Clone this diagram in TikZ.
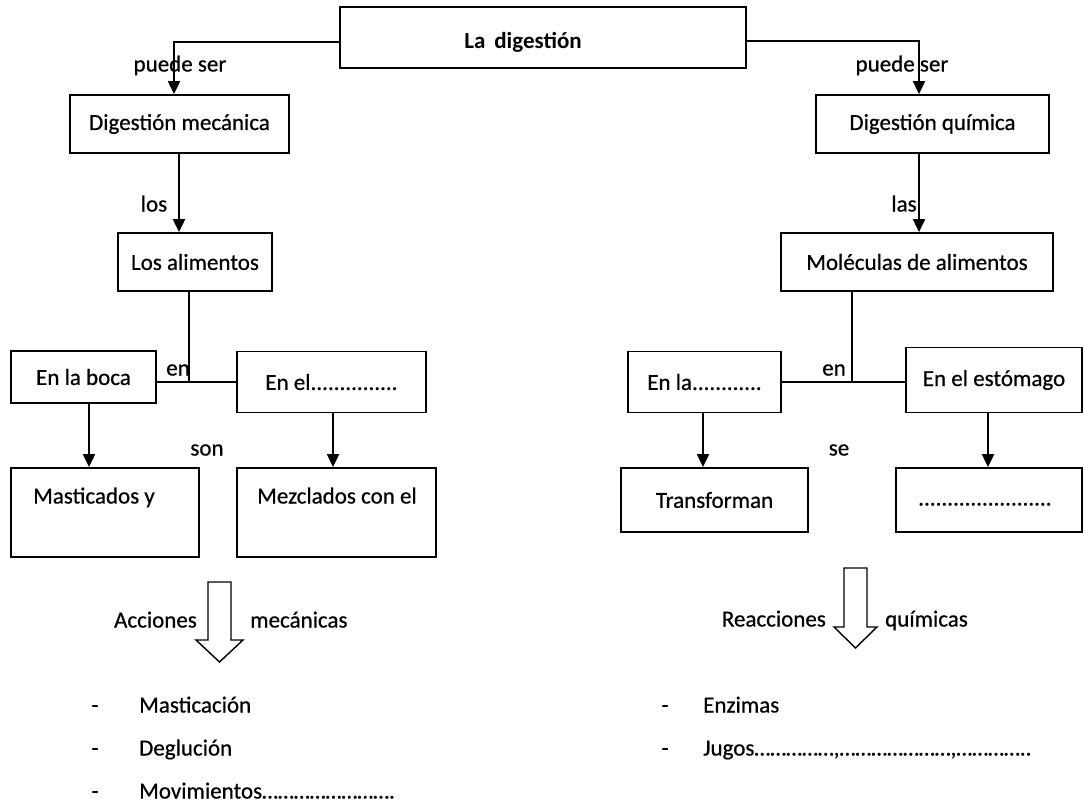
\documentclass[tikz,border=0pt]{standalone}
\usepackage{fontspec}
\setmainfont[FakeBold=0.6]{Carlito}
\newfontfamily\titlefont{Carlito}
\usetikzlibrary{arrows.meta}
\begin{document}
\begin{tikzpicture}[x=1pt,y=-1pt,
  txt/.style={font=\fontsize{23}{28}\selectfont, inner sep=0pt, text height=16pt, text depth=5pt},
  box/.style={draw, line width=1.8pt, rectangle, inner sep=0pt, font=\fontsize{23}{28}\selectfont},
  con/.style={line width=2pt},
  arr/.style={line width=2pt, -{Triangle[width=12pt,length=13pt]}},
  barrow/.style={draw, line width=1.4pt, fill=white, line join=miter}]
\useasboundingbox (0,0) rectangle (1084,809);

% boxes
\node[box, minimum width=406pt, minimum height=61pt,
      label={[txt, font=\fontsize{23}{28}\selectfont\titlefont\bfseries, xshift=-20pt, yshift=-5pt]center:La\ \,digestión}] (dig) at (543,37.5) {};
\node[box, minimum width=219pt, minimum height=58pt] (mec) at (179.5,124) {Digestión mecánica};
\node[box, minimum width=233pt, minimum height=58pt] (qui) at (932.5,124) {Digestión química};
\node[box, minimum width=154pt, minimum height=58pt] (ali) at (195,262) {Los alimentos};
\node[box, minimum width=272pt, minimum height=58pt] (mol) at (917,262) {Moléculas de alimentos};
\node[box, minimum width=145pt, minimum height=52pt] (boca) at (83.5,377) {En la boca};
\node[box, minimum width=189pt, minimum height=61pt] (enel) at (331.5,382) {En el...............};
\node[box, minimum width=153pt, minimum height=61pt] (enla) at (704.5,382) {En la............};
\node[box, minimum width=176pt, minimum height=65pt] (esto) at (994,380) {En el estómago};
\node[box, minimum width=188pt, minimum height=89pt] (mast) at (105,512.5) {};
\node[txt, anchor=west] (mastt) at (33,498) {Masticados y};
\node[box, minimum width=199pt, minimum height=89pt] (mezc) at (336.5,512.5) {};
\node[txt, anchor=west] (mezct) at (257,498) {Mezclados con el};
\node[box, minimum width=187pt, minimum height=64pt] (trans) at (714.5,500) {Transforman};
\node[box, minimum width=186pt, minimum height=64pt] (dots) at (989,500) {};
\node[txt] (dotst) at (985,500) {.......................};

% connectors
\draw[arr] ([yshift=-4.5pt]dig.west) -| ([xshift=-5.5pt]mec.north);
\draw[arr] ([yshift=-3.5pt]dig.east) -| ([xshift=-13.5pt]qui.north);
\draw[arr] ([xshift=-0.5pt]mec.south) -- ([xshift=-0.5pt]mec.south |- ali.north);
\draw[arr] ([xshift=-13.5pt]qui.south) -- ([xshift=-13.5pt]qui.south |- mol.north);
\draw[con] ([xshift=-6pt]ali.south) -- ([xshift=-6pt]ali.south |- enel.west);
\draw[con] (boca.east |- enel.west) -- (enel.west);
\draw[con] ([xshift=-65pt]mol.south) -- ([xshift=-65pt]mol.south |- enla.east);
\draw[con] (enla.east) -- (enla.east -| esto.west);
\draw[arr] ([xshift=5.5pt]boca.south) -- ([xshift=5.5pt]boca.south |- mast.north);
\draw[arr] ([xshift=1.5pt]enel.south) -- ([xshift=1.5pt]enel.south |- mezc.north);
\draw[arr] ([xshift=-1.5pt]enla.south) -- ([xshift=-1.5pt]enla.south |- trans.north);
\draw[arr] ([xshift=-6pt]esto.south) -- ([xshift=-6pt]esto.south |- dots.north);

% connector labels
\node[txt] (l1) at (180,66) {puede ser};
\node[txt] (l2) at (902,66) {puede ser};
\node[txt] (l3) at (154,206) {los};
\node[txt] (l4) at (904,206) {las};
\node[txt] (l5) at (178,370) {en};
\node[txt] (l6) at (834,370) {en};
\node[txt] (l7) at (207,450) {son};
\node[txt] (l8) at (839,450) {se};

% block arrows
\path[barrow] (208,582) -- (231,582) -- (231,640) -- (243,640) -- (219.5,662) -- (196,640) -- (208,640) -- cycle;
\node[txt, anchor=east] (acc) at (197,622) {Acciones};
\node[txt, anchor=west] (mecs) at (250,622) {mecánicas};
\path[barrow] (844,568) -- (867,568) -- (867,627) -- (877,627) -- (855.5,648) -- (834,627) -- (844,627) -- cycle;
\node[txt, anchor=east] (rea) at (826,621) {Reacciones};
\node[txt, anchor=west] (quis) at (885,621) {químicas};

% lists
\node[txt] (d1) at (95,707) {-};
\node[txt, anchor=west] (i1) at (139,707) {Masticación};
\node[txt] (d2) at (95,750) {-};
\node[txt, anchor=west] (i2) at (139,750) {Deglución};
\node[txt] (d3) at (95,793) {-};
\node[txt, anchor=west] (i3) at (139,793) {Movimientos…………………….};
\node[txt] (d4) at (665,707) {-};
\node[txt] (d5) at (665,750) {-};
\node[txt, anchor=west] (i4) at (703,707) {Enzimas};
\node[txt, anchor=west] (i5) at (703,750) {Jugos……………,…………………,…………..};
\end{tikzpicture}
\end{document}
